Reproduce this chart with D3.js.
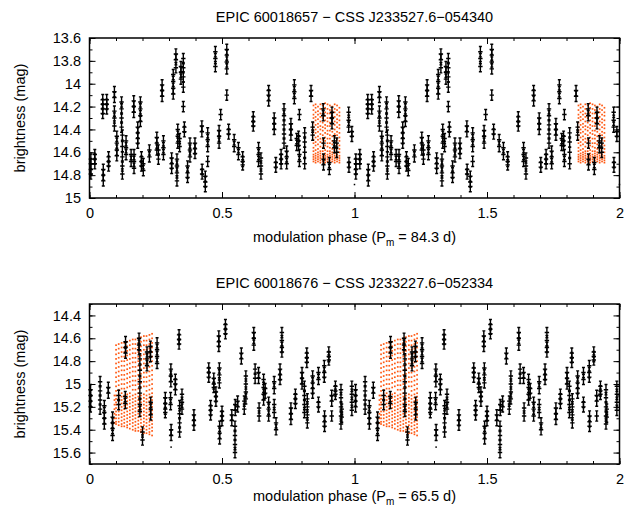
<!DOCTYPE html>
<html>
<head>
<meta charset="utf-8">
<title>modulation phase</title>
<style>
  body { margin: 0; background: #fff; }
  text { font-family: "Liberation Sans", Arial, sans-serif; }
</style>
</head>
<body>
<svg width="628" height="506" id="mainsvg"></svg>
<script src="https://d3js.org/d3.v7.min.js"></script>
<script>
// CSS photometry, phase 0-1 : [phase, [mags of the night]]  (plotted again at phase+1)
const cssTop = [
  [0.005, [14.66, 14.70, 14.75, 14.79]], [0.020, [14.62, 14.66, 14.70]],
  [0.050, [14.14, 14.18, 14.22, 14.26]], [0.052, [14.75, 14.80, 14.85]],
  [0.065, [14.14, 14.18, 14.22]], [0.072, [14.64, 14.68, 14.72]],
  [0.094, [14.07, 14.12, 14.24, 14.30, 14.37]], [0.103, [14.46, 14.52, 14.58, 14.63]],
  [0.121, [14.16, 14.22, 14.30, 14.38]], [0.124, [14.45, 14.55, 14.64, 14.72, 14.79]],
  [0.138, [14.50, 14.56, 14.62]], [0.157, [14.62, 14.68]],
  [0.167, [14.15, 14.20, 14.25]], [0.168, [14.62, 14.68, 14.74]],
  [0.182, [14.38, 14.43, 14.48, 14.52]], [0.192, [14.16, 14.22, 14.28, 14.33]],
  [0.196, [14.64, 14.68, 14.72]], [0.203, [14.70, 14.76]],
  [0.226, [14.58, 14.64]], [0.254, [14.47, 14.52, 14.58]], [0.260, [14.58, 14.66]],
  [0.274, [14.01, 14.06, 14.11]], [0.279, [14.50, 14.56, 14.62]],
  [0.310, [14.65, 14.70, 14.74]], [0.316, [13.92, 13.98, 14.04, 14.09]],
  [0.326, [13.74, 13.79, 13.86]], [0.330, [14.66, 14.72, 14.78, 14.85]],
  [0.333, [14.40, 14.46, 14.52]], [0.340, [14.48, 14.55]],
  [0.345, [13.85, 13.90, 13.96]], [0.354, [13.78, 13.86, 13.94, 14.03, 14.20]],
  [0.358, [14.38, 14.42]], [0.370, [14.72, 14.78, 14.82]],
  [0.379, [14.52, 14.58, 14.64]], [0.398, [14.52, 14.57, 14.61]],
  [0.424, [14.37, 14.42]], [0.425, [14.75, 14.79]],
  [0.437, [14.81, 14.86, 14.90]], [0.446, [14.43, 14.49, 14.55, 14.68]],
  [0.475, [13.72, 13.78, 13.85]], [0.489, [14.41, 14.46, 14.52]],
  [0.495, [14.27]], [0.518, [13.70, 13.75, 13.81, 13.87, 14.10]],
  [0.525, [14.40, 14.44]], [0.546, [14.49, 14.55]],
  [0.562, [14.56, 14.62]], [0.578, [14.64, 14.68, 14.71]],
  [0.618, [14.29, 14.33, 14.37]], [0.638, [14.56, 14.62, 14.68]],
  [0.647, [14.65, 14.72, 14.79]], [0.676, [14.06, 14.10, 14.15]],
  [0.697, [14.30, 14.35, 14.40]], [0.703, [14.69, 14.73]],
  [0.723, [14.62, 14.66, 14.70]], [0.734, [14.22, 14.28, 14.36, 14.44, 14.52]],
  [0.744, [14.59, 14.64, 14.70]], [0.760, [14.35, 14.40, 14.45]],
  [0.773, [14.01, 14.07, 14.13]], [0.782, [14.48, 14.54]],
  [0.789, [14.46, 14.50, 14.54]], [0.792, [14.27, 14.62, 14.68]],
  [0.812, [14.43, 14.51, 14.60, 14.70]], [0.836, [14.06, 14.11]],
  [0.842, [14.38, 14.45]], [0.882, [14.22, 14.28]],
  [0.883, [14.52, 14.66, 14.71]], [0.905, [14.69, 14.75]],
  [0.915, [14.25, 14.30, 14.35]], [0.924, [14.50, 14.56]],
  [0.933, [14.52, 14.60]], [0.978, [14.25, 14.32, 14.38]],
  [0.979, [14.69, 14.73]], [0.990, [14.42, 14.46]]
];
const cssTopDots = [[0.999, 14.88]];

const cssBottom = [
  [0.004, [15.05, 15.10, 15.15, 15.20]], [0.040, [14.98, 15.06, 15.14, 15.22]],
  [0.056, [15.19, 15.25, 15.30, 15.35]], [0.071, [15.03, 15.08]],
  [0.087, [15.29, 15.34, 15.39, 15.45]], [0.110, [15.10, 15.18]],
  [0.136, [14.63, 14.68, 14.73]], [0.135, [15.11, 15.17]],
  [0.187, [14.60, 14.66, 14.70]], [0.190, [14.78, 14.88, 14.98, 15.08, 15.18, 15.24]],
  [0.200, [15.42, 15.49]], [0.217, [14.72, 14.78, 14.84]],
  [0.230, [14.67, 14.72, 14.76]], [0.231, [15.16, 15.22, 15.27]],
  [0.255, [14.64, 14.70, 14.76, 14.82]], [0.286, [15.12, 15.17, 15.22, 15.25]],
  [0.307, [14.87, 14.93, 14.98]], [0.306, [15.12, 15.18]], [0.308, [15.40, 15.45]],
  [0.324, [14.96, 15.00, 15.05]], [0.338, [14.57, 14.61, 14.65]],
  [0.340, [15.19, 15.26, 15.34, 15.42]], [0.349, [15.09, 15.16, 15.22]],
  [0.394, [15.27, 15.32, 15.36]], [0.450, [14.86, 14.90, 14.94]],
  [0.457, [15.19, 15.23, 15.27]], [0.469, [14.95, 15.00, 15.03]],
  [0.477, [15.07, 15.11, 15.15]], [0.488, [14.58, 14.63, 14.67]],
  [0.490, [14.86, 14.92, 14.99]], [0.491, [15.37, 15.43, 15.48]],
  [0.500, [15.24, 15.28, 15.32]], [0.513, [14.48, 14.52, 14.56]],
  [0.537, [15.27, 15.32]], [0.549, [15.37, 15.45, 15.53, 15.60]],
  [0.550, [15.18, 15.23]], [0.559, [15.15, 15.20]],
  [0.573, [14.73, 14.78]], [0.584, [15.15, 15.22]],
  [0.590, [14.93, 15.00, 15.07, 15.13]], [0.620, [14.55, 14.60, 14.66]],
  [0.625, [14.87, 14.95]], [0.638, [14.90, 14.95]], [0.640, [15.21, 15.28]],
  [0.657, [14.96, 15.03, 15.09, 15.14]], [0.663, [15.04, 15.08]],
  [0.676, [15.16, 15.22, 15.28]], [0.697, [14.98, 15.04, 15.18, 15.25]],
  [0.704, [15.34, 15.40]], [0.719, [14.87, 14.92, 14.96]],
  [0.726, [14.55, 14.62, 14.68, 14.72]], [0.760, [15.21, 15.26, 15.31]],
  [0.777, [15.09, 15.13, 15.17]], [0.802, [14.90, 14.95, 15.00]],
  [0.811, [15.02, 15.10, 15.18, 15.25]], [0.820, [14.73, 14.77, 14.81]],
  [0.822, [15.13, 15.20, 15.27, 15.34]], [0.842, [14.93, 14.99, 15.04, 15.08]],
  [0.864, [14.90, 14.96, 15.16, 15.20]], [0.886, [14.84, 14.90, 14.94]],
  [0.887, [15.28, 15.33, 15.37]], [0.903, [14.72, 14.76, 14.79]],
  [0.914, [15.10, 15.15, 15.28]], [0.928, [15.02, 15.06, 15.09]],
  [0.949, [15.05, 15.12, 15.20, 15.28, 15.35]], [0.952, [15.22, 15.29]],
  [0.990, [15.02, 15.09, 15.16, 15.23]]
];
const cssBottomDots = [[0.307, 15.55]];

// K2 engineering light curve, folded : [phase, [mags]]
const k2Top = [
  [0.845, [14.19, 14.23, 14.27, 14.30, 14.34, 14.38, 14.41, 14.45, 14.49, 14.52, 14.56, 14.59, 14.62, 14.64, 14.66, 14.68]],
  [0.853, [14.18, 14.21, 14.25, 14.29, 14.32, 14.36, 14.40, 14.43, 14.47, 14.51, 14.54, 14.58, 14.61, 14.63, 14.65, 14.67, 14.69]],
  [0.862, [14.20, 14.24, 14.27, 14.31, 14.35, 14.38, 14.42, 14.46, 14.49, 14.53, 14.57, 14.60, 14.62, 14.64, 14.66, 14.68]],
  [0.871, [14.18, 14.22, 14.26, 14.29, 14.33, 14.37, 14.40, 14.44, 14.48, 14.51, 14.55, 14.59, 14.61, 14.63, 14.65, 14.67, 14.69]],
  [0.880, [14.19, 14.23, 14.27, 14.30, 14.34, 14.38, 14.41, 14.45, 14.49, 14.52, 14.56, 14.59, 14.62, 14.64, 14.66, 14.68]],
  [0.889, [14.17, 14.21, 14.25, 14.28, 14.32, 14.36, 14.39, 14.43, 14.47, 14.50, 14.54, 14.58, 14.61, 14.63, 14.65, 14.67, 14.69]],
  [0.898, [14.18, 14.22, 14.26, 14.30, 14.33, 14.37, 14.41, 14.44, 14.48, 14.52, 14.55, 14.59, 14.62, 14.64, 14.66, 14.68]],
  [0.907, [14.19, 14.23, 14.26, 14.30, 14.34, 14.37, 14.41, 14.45, 14.48, 14.52, 14.56, 14.59, 14.61, 14.63, 14.65, 14.67, 14.69]],
  [0.916, [14.20, 14.24, 14.28, 14.31, 14.35, 14.39, 14.42, 14.46, 14.50, 14.53, 14.57, 14.60, 14.62, 14.64, 14.66, 14.68]],
  [0.925, [14.18, 14.22, 14.25, 14.29, 14.33, 14.36, 14.40, 14.44, 14.47, 14.51, 14.55, 14.58, 14.61, 14.63, 14.65, 14.67, 14.69]],
  [0.934, [14.19, 14.23, 14.27, 14.31, 14.34, 14.38, 14.42, 14.45, 14.49, 14.53, 14.56, 14.60, 14.62, 14.64, 14.66, 14.68]],
  [0.943, [14.21, 14.25, 14.28, 14.32, 14.36, 14.39, 14.43, 14.47, 14.50, 14.54, 14.57, 14.60, 14.63, 14.65, 14.67, 14.69]]
];
const k2Bottom = [
  [0.094, [15.10, 15.14, 15.18, 15.22, 15.26, 15.30, 15.34]],
  [0.100, [14.66, 14.70, 14.74, 14.78, 14.82, 14.86, 14.90, 14.94, 14.98, 15.02, 15.06, 15.10, 15.13, 15.16, 15.18, 15.21, 15.24, 15.27, 15.30, 15.33, 15.35]],
  [0.110, [14.65, 14.69, 14.73, 14.77, 14.81, 14.85, 14.89, 14.93, 14.97, 15.01, 15.05, 15.09, 15.12, 15.15, 15.18, 15.21, 15.24, 15.27, 15.30, 15.33, 15.36]],
  [0.121, [14.64, 14.68, 14.72, 14.76, 14.80, 14.84, 14.88, 14.92, 14.96, 15.00, 15.04, 15.08, 15.11, 15.14, 15.17, 15.20, 15.23, 15.26, 15.29, 15.32, 15.35, 15.37]],
  [0.131, [14.64, 14.68, 14.72, 14.76, 14.80, 14.84, 14.88, 14.92, 14.96, 15.00, 15.04, 15.10, 15.13, 15.16, 15.19, 15.22, 15.25, 15.28, 15.31, 15.34, 15.37]],
  [0.142, [14.63, 14.67, 14.71, 14.75, 14.79, 14.83, 14.87, 14.91, 14.95, 14.99, 15.03, 15.09, 15.12, 15.15, 15.18, 15.21, 15.24, 15.27, 15.30, 15.33, 15.36, 15.38]],
  [0.152, [14.62, 14.66, 14.70, 14.74, 14.78, 14.82, 14.86, 14.90, 14.94, 14.98, 15.02, 15.08, 15.11, 15.14, 15.17, 15.20, 15.23, 15.26, 15.29, 15.32, 15.35, 15.39]],
  [0.163, [14.61, 14.65, 14.69, 14.73, 14.77, 14.81, 14.85, 14.89, 14.93, 14.97, 15.01, 15.05, 15.10, 15.13, 15.16, 15.19, 15.22, 15.25, 15.28, 15.31, 15.34, 15.37, 15.40]],
  [0.173, [14.61, 14.65, 14.69, 14.73, 14.77, 14.81, 14.85, 14.89, 14.93, 14.97, 15.01, 15.05, 15.09, 15.12, 15.15, 15.18, 15.21, 15.24, 15.27, 15.30, 15.33, 15.36, 15.39, 15.41]],
  [0.184, [14.60, 14.64, 14.68, 14.72, 14.76, 14.80, 14.84, 14.88, 14.92, 14.96, 15.00, 15.04, 15.08, 15.11, 15.14, 15.17, 15.20, 15.23, 15.26, 15.29, 15.32, 15.35, 15.38, 15.41]],
  [0.194, [14.59, 14.63, 14.67, 14.71, 14.75, 14.79, 14.83, 14.87, 14.91, 14.95, 14.99, 15.03, 15.10, 15.13, 15.16, 15.19, 15.22, 15.25, 15.28, 15.31, 15.34, 15.37, 15.40, 15.42]],
  [0.205, [14.58, 14.62, 14.66, 14.70, 14.74, 14.78, 14.82, 14.86, 14.90, 14.94, 14.98, 15.02, 15.09, 15.12, 15.15, 15.18, 15.21, 15.24, 15.27, 15.30, 15.33, 15.36, 15.39, 15.43]],
  [0.215, [14.58, 14.62, 14.66, 14.70, 14.74, 14.78, 14.82, 14.86, 14.90, 14.94, 14.98, 15.02, 15.06, 15.10, 15.13, 15.16, 15.19, 15.22, 15.25, 15.28, 15.31, 15.34, 15.37, 15.40, 15.43]],
  [0.226, [14.57, 14.61, 14.65, 14.69, 14.73, 14.77, 14.81, 14.85, 14.89, 14.93, 14.97, 15.01, 15.05, 15.09, 15.12, 15.15, 15.18, 15.21, 15.24, 15.27, 15.30, 15.33, 15.36, 15.39, 15.42, 15.44]],
  [0.236, [14.56, 14.60, 14.64, 14.68, 14.72, 14.76, 14.80, 14.84, 14.88, 14.92, 14.96, 15.00, 15.04, 15.08, 15.11, 15.14, 15.17, 15.20, 15.23, 15.26, 15.29, 15.32, 15.35, 15.38, 15.41, 15.45]]
];

const xTickLabels = [0, 0.5, 1, 1.5, 2];
const xMinorTicks = d3.range(0, 2.001, 0.1);
const topYTicks = [13.6, 13.8, 14, 14.2, 14.4, 14.6, 14.8, 15];
const bottomYTicks = [14.4, 14.6, 14.8, 15, 15.2, 15.4, 15.6];

const panels = [
  { top: 38, title: 'EPIC 60018657 \u2212 CSS J233527.6\u2212054340', yDomain: [13.6, 15.0],
    yTicks: topYTicks, css: cssTop, dots: cssTopDots, k2: k2Top, period: '84.3', xlab: 44 },
  { top: 304, title: 'EPIC 60018676 \u2212 CSS J233227.6\u2212052334', yDomain: [14.3, 15.7],
    yTicks: bottomYTicks, css: cssBottom, dots: cssBottomDots, k2: k2Bottom, period: '65.5', xlab: 37 }
];

const svg = d3.select('#mainsvg');
const left = 89.5, right = 619.5, plotH = 160;
const errBar = 0.045;
const fontFam = '"Liberation Sans", Arial, sans-serif';

panels.forEach(p => {
  const g = svg.append('g').attr('transform', `translate(0, ${p.top})`);
  const x = d3.scaleLinear().domain([0, 2]).range([left, right]);
  const y = d3.scaleLinear().domain(p.yDomain).range([0, plotH]);

  // K2 points (orange), drawn at phase and phase + 1
  const k2pts = [];
  p.k2.forEach(([ph, mags]) => mags.forEach(m => { k2pts.push([ph, m]); k2pts.push([ph + 1, m]); }));
  g.append('g').selectAll('rect').data(k2pts).join('rect')
    .attr('x', d => x(d[0]) - 0.8).attr('y', d => y(d[1]) - 0.8)
    .attr('width', 1.7).attr('height', 1.7)
    .attr('fill', '#ff5a14');

  // CSS points with error bars
  const cssPts = [];
  p.css.forEach(([ph, mags]) => mags.forEach(m => { cssPts.push([ph, m]); cssPts.push([ph + 1, m]); }));
  const eb = g.append('g').attr('stroke', '#000').attr('fill', 'none');
  eb.selectAll('path').data(cssPts).join('path')
    .attr('stroke-width', 1.4)
    .attr('d', d => {
      const cx = x(d[0]), cy = y(d[1]);
      const y1 = y(d[1] - errBar), y2 = y(d[1] + errBar);
      return `M${cx},${y1}V${y2}M${cx - 1.5},${y1}H${cx + 1.5}M${cx - 1.5},${y2}H${cx + 1.5}` +
             `M${cx - 2.2},${cy}H${cx + 2.2}`;
    });

  const dotPts = [];
  p.dots.forEach(d => { dotPts.push(d); dotPts.push([d[0] + 1, d[1]]); });
  g.append('g').selectAll('rect').data(dotPts).join('rect')
    .attr('x', d => x(d[0]) - 0.5).attr('y', d => y(d[1]) - 0.5)
    .attr('width', 1.5).attr('height', 1.5).attr('fill', '#000');

  // ticks (inward, mirrored)
  const yMinor = d3.range(p.yDomain[0], p.yDomain[1] + 0.001, 0.1);
  const styleAxis = sel => {
    sel.select('.domain').remove();
    sel.selectAll('line').attr('stroke', '#000');
    sel.attr('font-size', 14.5).attr('font-family', fontFam);
    sel.selectAll('text').attr('fill', '#000');
  };
  g.append('g').attr('transform', `translate(${left},0)`)
    .call(d3.axisLeft(y).tickValues(yMinor).tickSize(-3).tickFormat('')).call(styleAxis);
  g.append('g').attr('transform', `translate(${left},0)`)
    .call(d3.axisLeft(y).tickValues(p.yTicks).tickSize(-6).tickPadding(8.5).tickFormat(d3.format('~g'))).call(styleAxis);
  g.append('g').attr('transform', `translate(${right},0)`)
    .call(d3.axisRight(y).tickValues(yMinor).tickSize(-3).tickFormat('')).call(styleAxis);
  g.append('g').attr('transform', `translate(${right},0)`)
    .call(d3.axisRight(y).tickValues(p.yTicks).tickSize(-6).tickFormat('')).call(styleAxis);
  g.append('g').attr('transform', `translate(0,${plotH})`)
    .call(d3.axisBottom(x).tickValues(xMinorTicks).tickSize(-3).tickFormat('')).call(styleAxis);
  g.append('g').attr('transform', `translate(0,${plotH})`)
    .call(d3.axisBottom(x).tickValues(xTickLabels).tickSize(-6).tickPadding(9.5).tickFormat(d3.format('~g'))).call(styleAxis);
  g.append('g')
    .call(d3.axisTop(x).tickValues(xMinorTicks).tickSize(-3).tickFormat('')).call(styleAxis);
  g.append('g')
    .call(d3.axisTop(x).tickValues(xTickLabels).tickSize(-6).tickFormat('')).call(styleAxis);

  // frame
  g.append('rect').attr('x', left).attr('y', 0).attr('width', right - left).attr('height', plotH)
    .attr('fill', 'none').attr('stroke', '#000').attr('stroke-width', 1.5);

  // title
  g.append('text').attr('x', (left + right) / 2).attr('y', -16)
    .attr('text-anchor', 'middle').attr('font-size', 14.5).text(p.title);

  // y label
  g.append('text').attr('transform', `translate(25,${plotH / 2}) rotate(-90)`)
    .attr('text-anchor', 'middle').attr('font-size', 14.5).text('brightness (mag)');

  // x label with subscript
  const xl = g.append('text').attr('x', (left + right) / 2).attr('y', plotH + p.xlab)
    .attr('text-anchor', 'middle').attr('font-size', 14.5);
  xl.append('tspan').text('modulation phase (P');
  xl.append('tspan').attr('font-size', 10).attr('dy', 4).text('m');
  xl.append('tspan').attr('dy', -4).text(` = ${p.period} d)`);
});
</script>
</body>
</html>
